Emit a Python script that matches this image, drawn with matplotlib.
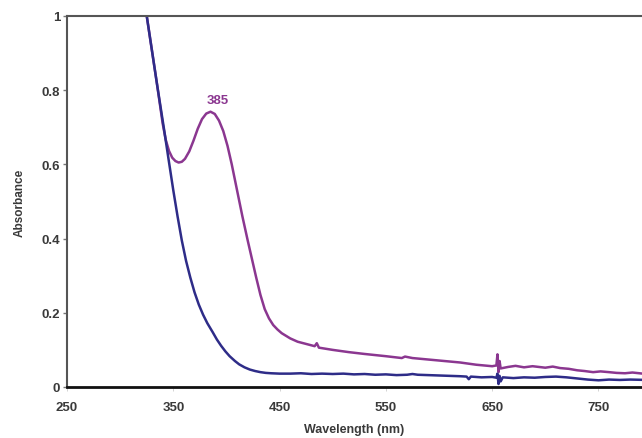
import matplotlib.pyplot as plt

# wavelength (nm) and absorbance
wl_blue = [318, 325, 330, 335, 341, 346, 350, 354, 358, 362, 366, 370, 374, 378, 382,
           387, 391, 395, 399, 403, 408, 412, 417, 422, 427, 432, 437, 442, 450, 460,
           470, 480, 490, 500, 510, 520, 530, 540, 550, 560, 570, 575, 580, 590, 600,
           610, 620, 626, 628, 630, 640, 650, 654, 655, 656, 657, 658, 660, 670, 680,
           690, 700, 710, 720, 730, 740, 750, 760, 770, 780, 795]
abs_blue = [1.12, 1.0, 0.905, 0.81, 0.7, 0.605, 0.53, 0.46, 0.395, 0.34, 0.295, 0.255,
            0.222, 0.195, 0.172, 0.148, 0.128, 0.111, 0.096, 0.083, 0.07, 0.061, 0.053,
            0.047, 0.043, 0.040, 0.038, 0.037, 0.036, 0.036, 0.037, 0.035, 0.036,
            0.035, 0.036, 0.034, 0.035, 0.033, 0.034, 0.032, 0.033, 0.035, 0.033,
            0.032, 0.031, 0.030, 0.029, 0.028, 0.021, 0.028, 0.026, 0.027, 0.025,
            0.036, 0.008, 0.030, 0.015, 0.026, 0.024, 0.026, 0.025, 0.027, 0.028,
            0.026, 0.023, 0.020, 0.018, 0.020, 0.019, 0.020, 0.019]

wl_purple = [318, 325, 330, 335, 340, 343, 346, 349, 352, 355, 358, 361, 365, 369,
             373, 377, 381, 385, 389, 393, 397, 401, 405, 410, 415, 420, 424, 428,
             432, 436, 440, 444, 448, 452, 460, 467, 475, 483, 485, 487, 500, 515,
             530, 550, 565, 568, 575, 590, 605, 620, 635, 650, 654, 655, 656, 657,
             658, 665, 672, 680, 688, 700, 707, 714, 722, 730, 737, 745, 752, 760,
             767, 775, 782, 795]
abs_purple = [1.12, 1.0, 0.905, 0.81, 0.71, 0.665, 0.636, 0.618, 0.609, 0.605, 0.607,
              0.615, 0.635, 0.664, 0.696, 0.722, 0.737, 0.742, 0.736, 0.718, 0.69,
              0.65, 0.6, 0.53, 0.46, 0.395, 0.345, 0.295, 0.248, 0.21, 0.185, 0.167,
              0.155, 0.145, 0.131, 0.122, 0.116, 0.11, 0.118, 0.106, 0.1, 0.094,
              0.089, 0.083, 0.078, 0.082, 0.078, 0.074, 0.07, 0.066, 0.06, 0.056,
              0.058, 0.088, 0.04, 0.07, 0.05, 0.054, 0.057, 0.053, 0.056, 0.052,
              0.055, 0.051, 0.049, 0.045, 0.043, 0.040, 0.042, 0.040, 0.038, 0.037,
              0.039, 0.035]

peak_wl = 385
peak_label = '385'
x_ticks = [250, 350, 450, 550, 650, 750]
y_ticks = [0, 0.2, 0.4, 0.6, 0.8, 1]
y_ticklabels = ['0', '0.2', '0.4', '0.6', '0.8', '1']

plt.rcParams['font.family'] = ['Liberation Sans', 'DejaVu Sans']
text_color = '#3a3a3a'
purple = '#8b3790'
blue = '#2e2c88'

fig = plt.figure(figsize=(6.42, 4.39), dpi=100)
ax = fig.add_axes([0.1044, 0.1162, 0.8956, 0.8451])

ax.plot(wl_purple, abs_purple, color=purple, lw=1.8)
ax.plot(wl_blue, abs_blue, color=blue, lw=1.8)
ax.text(peak_wl + 7, 0.774, peak_label, color=purple, fontsize=9.5,
        fontweight='bold', ha='center', va='center')

ax.set_xlim(250, 791)
ax.set_ylim(0, 1)
ax.set_xticks(x_ticks)
ax.set_yticks(y_ticks)
ax.set_yticklabels(y_ticklabels)

for s in ['left', 'top']:
    ax.spines[s].set_color('#555555')
    ax.spines[s].set_linewidth(1.5)
ax.spines['bottom'].set_color('#111111')
ax.spines['bottom'].set_linewidth(2)
ax.spines['right'].set_visible(False)

ax.tick_params(axis='y', direction='out', length=3, width=1, color='#777777',
               pad=2, labelsize=9.5, labelcolor=text_color)
ax.tick_params(axis='x', direction='out', length=3, width=0.6, color='#cccccc',
               pad=7, labelsize=9.5, labelcolor=text_color)
for lab in ax.get_xticklabels() + ax.get_yticklabels():
    lab.set_fontweight('bold')

ax.set_xlabel('Wavelength (nm)', fontsize=9, fontweight='bold',
              color=text_color, labelpad=7)
ax.set_ylabel('Absorbance', fontsize=8.5, fontweight='bold',
              color=text_color, labelpad=11)

fig.savefig('out.png', dpi=100)
